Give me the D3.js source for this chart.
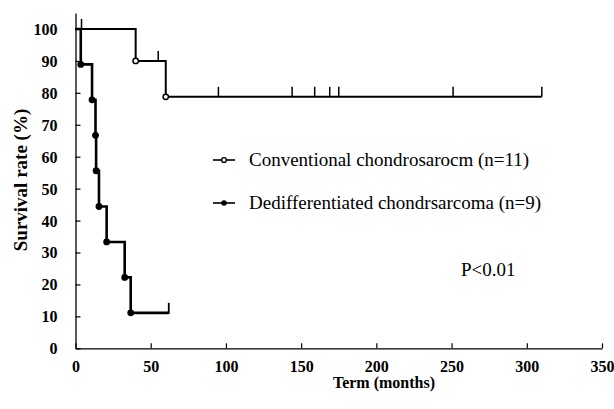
<!DOCTYPE html>
<html>
<head>
<meta charset="utf-8">
<script src="https://cdn.jsdelivr.net/npm/d3@7"></script>
<style>
  html, body { margin: 0; padding: 0; background: #fff; }
  svg { display: block; }
  text { font-family: "Liberation Serif", "Times New Roman", serif; fill: #000; }
</style>
</head>
<body>
<svg id="chart" width="614" height="409" font-family="Liberation Serif, serif"></svg>
<script>
// ---- data ----
const xTicks = [0, 50, 100, 150, 200, 250, 300, 350];
const yTicks = [0, 10, 20, 30, 40, 50, 60, 70, 80, 90, 100];

// Conventional chondrosarcoma (n=11)
const convEventTimes = [40, 60];
const convEventSurv = [90, 78.75];
const convCensorTimes = [4, 55, 95, 144, 159, 169, 175, 251, 310];
const convEnd = 310;

// Dedifferentiated chondrosarcoma (n=9)
const dediffEventTimes = [3.5, 11, 13.3, 13.7, 15.6, 20.7, 32.7, 36.7];
const dediffEventSurv = [88.9, 77.8, 66.7, 55.6, 44.4, 33.3, 22.2, 11.1];
const dediffCensorTimes = [62];
const dediffEnd = 62;

const legendLabels = ["Conventional chondrosarocm (n=11)", "Dedifferentiated chondrsarcoma (n=9)"];
const pText = "P<0.01";

// ---- drawing ----
const FONT = '"Liberation Serif", "Times New Roman", serif';
const svg = d3.select("#chart");
const x = d3.scaleLinear().domain([0, 350]).range([75.5, 602]);
const y = d3.scaleLinear().domain([0, 105]).range([348.3, 13]);

function stepPoints(times, surv, end) {
  const pts = [[0, 100]];
  let cur = 100;
  times.forEach((t, i) => { pts.push([t, cur]); pts.push([t, surv[i]]); cur = surv[i]; });
  pts.push([end, cur]);
  return pts;
}
function survAt(times, surv, t) {
  let s = 100;
  times.forEach((tt, i) => { if (tt <= t) s = surv[i]; });
  return s;
}
const line = d3.line().x(d => x(d[0])).y(d => y(d[1]));

// axes
const gx = svg.append("g").attr("transform", `translate(0,${y(0)})`)
  .call(d3.axisBottom(x).tickValues(xTicks).tickSize(-5).tickSizeOuter(0).tickPadding(12));
const gy = svg.append("g").attr("transform", `translate(${x(0)},0)`)
  .call(d3.axisLeft(y).tickValues(yTicks).tickSize(-5).tickSizeOuter(0).tickPadding(18));
[gx, gy].forEach(g => {
  g.attr("font-family", FONT);
  g.selectAll("path.domain").attr("stroke", "#000").attr("stroke-width", 1.3);
  g.selectAll(".tick line").attr("stroke", "#000").attr("stroke-width", 1.2);
  g.selectAll(".tick text")
    .attr("font-family", FONT).style("font-family", FONT)
    .style("font-size", "16px").style("font-weight", "bold").attr("fill", "#000");
});
gy.selectAll(".tick text").attr("x", -18).attr("dy", "0.34em");

// axis titles
svg.append("text").attr("x", 384).attr("y", 388).attr("text-anchor", "middle")
  .style("font-family", FONT).style("font-size", "16px").style("font-weight", "bold").text("Term (months)");
svg.append("text").attr("transform", "translate(27,180) rotate(-90)").attr("text-anchor", "middle")
  .style("font-family", FONT).style("font-size", "19px").style("font-weight", "bold").text("Survival rate (%)");

// curves
svg.append("path").datum(stepPoints(dediffEventTimes, dediffEventSurv, dediffEnd))
  .attr("d", line).attr("fill", "none").attr("stroke", "#000").attr("stroke-width", 2.6);
svg.append("path").datum(stepPoints(convEventTimes, convEventSurv, convEnd))
  .attr("d", line).attr("fill", "none").attr("stroke", "#000").attr("stroke-width", 2);

// censor ticks
svg.selectAll("line.cc").data(convCensorTimes).enter().append("line")
  .attr("x1", d => x(d)).attr("x2", d => x(d))
  .attr("y1", d => y(survAt(convEventTimes, convEventSurv, d)))
  .attr("y2", d => y(survAt(convEventTimes, convEventSurv, d)) - 10)
  .attr("stroke", "#000").attr("stroke-width", 1.5);
svg.selectAll("line.dc").data(dediffCensorTimes).enter().append("line")
  .attr("x1", d => x(d)).attr("x2", d => x(d))
  .attr("y1", d => y(survAt(dediffEventTimes, dediffEventSurv, d)) + 1)
  .attr("y2", d => y(survAt(dediffEventTimes, dediffEventSurv, d)) - 10)
  .attr("stroke", "#000").attr("stroke-width", 1.8);

// event markers
svg.selectAll("circle.ce").data(convEventTimes).enter().append("circle")
  .attr("cx", d => x(d)).attr("cy", (d, i) => y(convEventSurv[i])).attr("r", 2.7)
  .attr("fill", "#fff").attr("stroke", "#000").attr("stroke-width", 1.5);
svg.selectAll("circle.de").data(dediffEventTimes).enter().append("circle")
  .attr("cx", d => x(d)).attr("cy", (d, i) => y(dediffEventSurv[i])).attr("r", 3.4)
  .attr("fill", "#000");

// legend
const legY = [160, 203];
legendLabels.forEach((lab, i) => {
  svg.append("line").attr("x1", 213).attr("x2", 235).attr("y1", legY[i]).attr("y2", legY[i])
    .attr("stroke", "#000").attr("stroke-width", 1.6);
  if (i === 0) {
    svg.append("circle").attr("cx", 224).attr("cy", legY[i]).attr("r", 2.4)
      .attr("fill", "#fff").attr("stroke", "#000").attr("stroke-width", 1.4);
  } else {
    svg.append("circle").attr("cx", 224).attr("cy", legY[i]).attr("r", 2.8).attr("fill", "#000");
  }
  svg.append("text").attr("x", 249).attr("y", legY[i] + 6)
    .style("font-family", FONT).style("font-size", "19px").text(lab);
});

svg.append("text").attr("x", 461).attr("y", 276)
  .style("font-family", FONT).style("font-size", "19px").text(pText);
</script>
</body>
</html>
